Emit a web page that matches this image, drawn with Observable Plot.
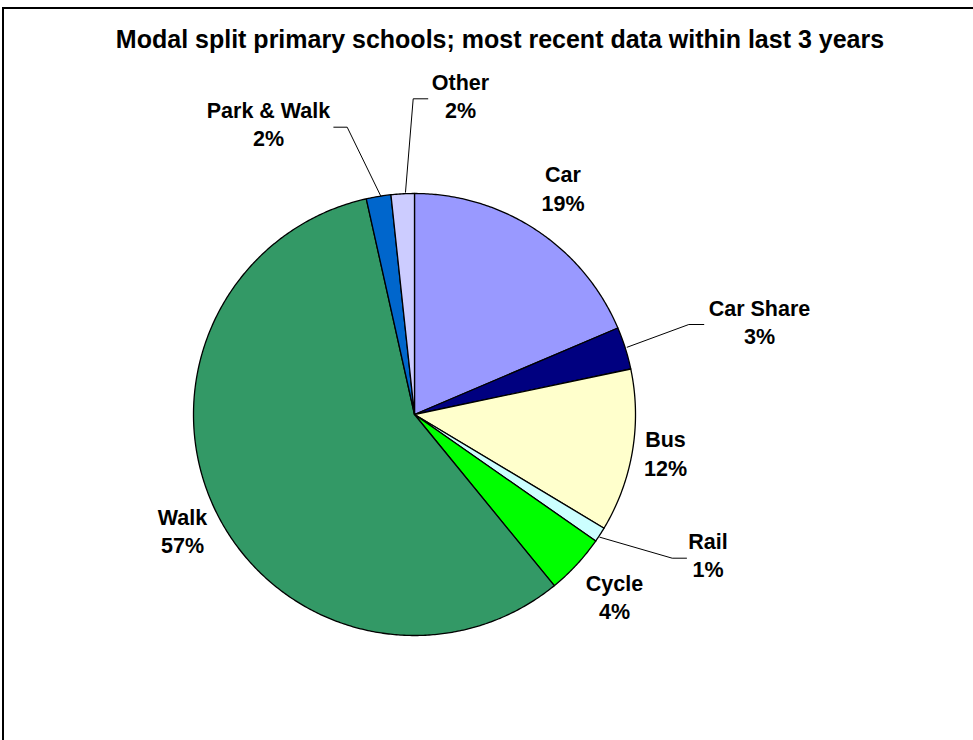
<!DOCTYPE html>
<html>
<head>
<meta charset="utf-8">
<script src="https://cdn.jsdelivr.net/npm/d3@7"></script>
<script src="https://cdn.jsdelivr.net/npm/@observablehq/plot@0.6"></script>
<style>
  html, body { margin: 0; padding: 0; background: #fff; overflow: hidden; }
  #wrap { position: relative; width: 973px; height: 740px; }
  #border { position: absolute; left: 2px; top: 7px; width: 1200px; height: 1200px;
            border-left: 2.5px solid #000; border-top: 2.5px solid #000; pointer-events: none; }
</style>
</head>
<body>
<div id="wrap"><div id="border"></div></div>
<script>
// ---- data ----
const titleText = "Modal split primary schools; most recent data within last 3 years";
const categories = ["Car", "Car Share", "Bus", "Rail", "Cycle", "Walk", "Park & Walk", "Other"];
const shares = [18.6, 3.1, 11.9, 1.1, 4.4, 57.4, 1.8, 1.7];
const colors = ["#9999FF", "#000080", "#FFFFCC", "#CCFFFF", "#00FF00", "#339966", "#0066CC", "#CCCCFF"];

// ---- layout (pixel-space data coordinates) ----
const W = 973, H = 740;
const cx = 414, cy = 414, R = 221;
const labelX =  [562.5, 759, 665, 707.5, 614, 182, 268, 460];
const labelB1 = [181.7, 315, 446.7, 548.3, 590, 524, 117, 89.3];
const lineGap = 28.5;
const leaders = {
  "Car Share":   [[626.7, 346.7], [688.3, 324], [703.3, 324]],
  "Rail":        [[599.3, 536.7], [671.7, 557.7], [686, 557.7]],
  "Park & Walk": [[380, 195], [346.7, 126.7], [333.3, 126.7]],
  "Other":       [[405, 191.7], [412.7, 98.3], [427.3, 98.3]]
};

// ---- build slice polygons from the pie layout ----
const pie = d3.pie().sort(null).value(d => d.value).startAngle(0).endAngle(2 * Math.PI);
const arcs = pie(categories.map((c, i) => ({name: c, value: shares[i]})));
const slicePts = [];
for (const a of arcs) {
  const name = a.data.name;
  slicePts.push({name, x: cx, y: cy});
  const steps = Math.max(4, Math.ceil((a.endAngle - a.startAngle) / (Math.PI / 360)));
  for (let k = 0; k <= steps; k++) {
    const t = a.startAngle + (a.endAngle - a.startAngle) * k / steps;
    slicePts.push({name, x: cx + R * Math.sin(t), y: cy - R * Math.cos(t)});
  }
}

const labels1 = categories.map((c, i) => ({name: c, x: labelX[i], y: labelB1[i]}));
const labels2 = categories.map((c, i) => ({name: Math.round(shares[i]) + "%", x: labelX[i], y: labelB1[i] + lineGap}));

const leaderPts = [];
for (const [k, pts] of Object.entries(leaders)) for (const [x, y] of pts) leaderPts.push({k, x, y});

const font = "'Liberation Sans', Arial, sans-serif";

const chart = Plot.plot({
  width: W, height: H,
  margin: 0,
  x: {domain: [0, W], range: [0, W], axis: null},
  y: {domain: [0, H], range: [0, H], axis: null},
  color: {domain: categories, range: colors},
  style: {fontFamily: font, background: "transparent"},
  marks: [
    Plot.line(slicePts, {x: "x", y: "y", z: "name", fill: "name", stroke: "#000", strokeWidth: 1.3, curve: "linear-closed"}),
    Plot.line(leaderPts, {x: "x", y: "y", z: "k", stroke: "#000", strokeWidth: 1}),
    Plot.text(labels1, {x: "x", y: "y", text: "name", lineAnchor: "bottom", textAnchor: "middle", fontSize: 21.5, fontWeight: "bold", fill: "#000", fontFamily: font}),
    Plot.text(labels2, {x: "x", y: "y", text: "name", lineAnchor: "bottom", textAnchor: "middle", fontSize: 21.5, fontWeight: "bold", fill: "#000", fontFamily: font}),
    Plot.text([titleText], {x: () => 499.5, y: () => 47, text: d => d, lineAnchor: "bottom", textAnchor: "middle", fontSize: 25, fontWeight: "bold", fill: "#000", fontFamily: font})
  ]
});
document.getElementById("wrap").appendChild(chart);
chart.style.position = "absolute";
chart.style.left = "0px";
chart.style.top = "0px";
</script>
</body>
</html>
